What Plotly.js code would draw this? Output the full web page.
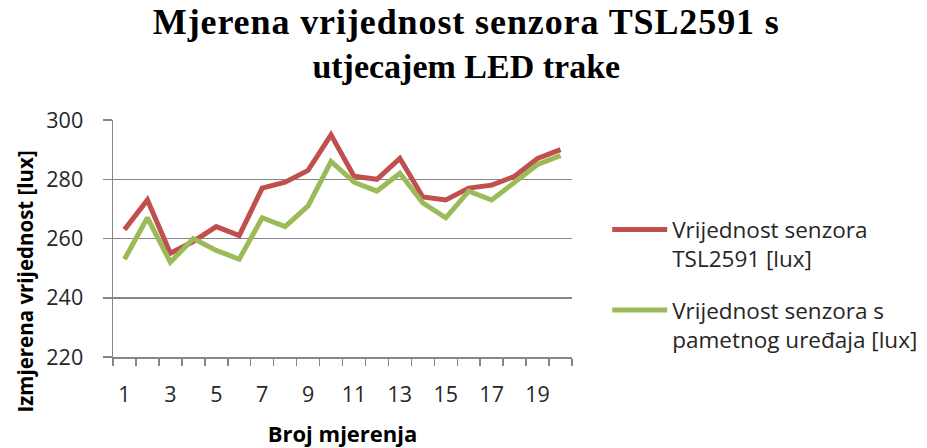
<!DOCTYPE html>
<html>
<head>
<meta charset="utf-8">
<script src="https://cdn.plot.ly/plotly-3.0.1.min.js"></script>
<style>html,body{margin:0;padding:0;background:#fff;}#chart{width:927px;height:448px;}</style>
</head>
<body>
<div id="chart"></div>
<script>
const measurements = [1,2,3,4,5,6,7,8,9,10,11,12,13,14,15,16,17,18,19,20];
const tslValues = [263,273,255,259,264,261,277,279,283,295,281,280,287,274,273,277,278,281,287,290];
const phoneValues = [253,267,252,260,256,253,267,264,271,286,279,276,282,272,267,276,273,279,285,288];
const seriesNames = ['Vrijednost senzora<br>TSL2591 [lux]', 'Vrijednost senzora s<br>pametnog uređaja [lux]'];
const xTickLabels = [1,3,5,7,9,11,13,15,17,19];
const yTickValues = [220,240,260,280,300];
const titleLines = ['Mjerena vrijednost senzora TSL2591 s', 'utjecajem LED trake'];
const xTitle = 'Broj mjerenja';
const yTitle = 'Izmjerena vrijednost [lux]';

const gray = '#868686';
const font = 'Open Sans, DejaVu Sans, sans-serif';

const traces = [
  {x: measurements, y: tslValues, name: seriesNames[0], type: 'scatter', mode: 'lines',
   line: {color: '#C0504D', width: 5}, legendgroup: 'a'},
  {x: measurements, y: phoneValues, name: seriesNames[1], type: 'scatter', mode: 'lines',
   line: {color: '#9BBB59', width: 5}, legendgroup: 'b'}
];

const titleText = '<span style="font-size:36px;letter-spacing:0.9px">' + titleLines[0] + '</span><br>' + titleLines[1];

const layout = {
  width: 927, height: 448,
  margin: {l: 113, r: 355, t: 120, b: 91, pad: 0},
  paper_bgcolor: '#fff', plot_bgcolor: '#fff',
  font: {family: font, size: 21, color: '#262626'},
  title: {text: titleText, xref: 'container', x: 0.503, y: 0.925, yref: 'container', yanchor: 'top',
          font: {family: 'Liberation Serif, Times New Roman, serif', size: 34, weight: 'bold', color: '#000'}},
  xaxis: {
    range: [0.5, 20.5], tickmode: 'array', tickvals: xTickLabels, ticktext: xTickLabels.map(String),
    ticks: '', showgrid: false, zeroline: false, showline: true, linecolor: gray, linewidth: 1.5,
    ticklabelstandoff: 18,
    minor: {tick0: 0.5, dtick: 1, ticks: 'outside', ticklen: 7, tickcolor: gray, tickwidth: 1.5, showgrid: false},
    tickfont: {size: 21.5, color: '#262626'},
    title: {text: xTitle, font: {size: 22, weight: 'bold', color: '#000'}, standoff: 19}
  },
  yaxis: {
    range: [220, 300], tickmode: 'array', tickvals: yTickValues,
    ticks: 'outside', ticklen: 9, tickcolor: gray, tickwidth: 1.5,
    showgrid: true, gridcolor: gray, gridwidth: 1.5, zeroline: false,
    showline: true, linecolor: gray, linewidth: 1.5,
    ticklabelstandoff: 15,
    tickfont: {size: 21.5, color: '#262626'}
  },
  annotations: [{
    text: yTitle, xref: 'paper', yref: 'paper', x: -0.191, y: 0.32, showarrow: false,
    textangle: -90, font: {family: font, size: 20.5, weight: 'bold', color: '#000'},
    xanchor: 'center', yanchor: 'middle'
  }],
  showlegend: true,
  legend: {xref: 'container', yref: 'container', x: 0.655, y: 0.535, xanchor: 'left', yanchor: 'top',
           valign: 'top', itemwidth: 55, tracegroupgap: 19, font: {size: 22.5, color: '#262626'},
           bgcolor: 'rgba(0,0,0,0)'}
};

Plotly.newPlot('chart', traces, layout, {displayModeBar: false, staticPlot: true});
</script>
</body>
</html>
